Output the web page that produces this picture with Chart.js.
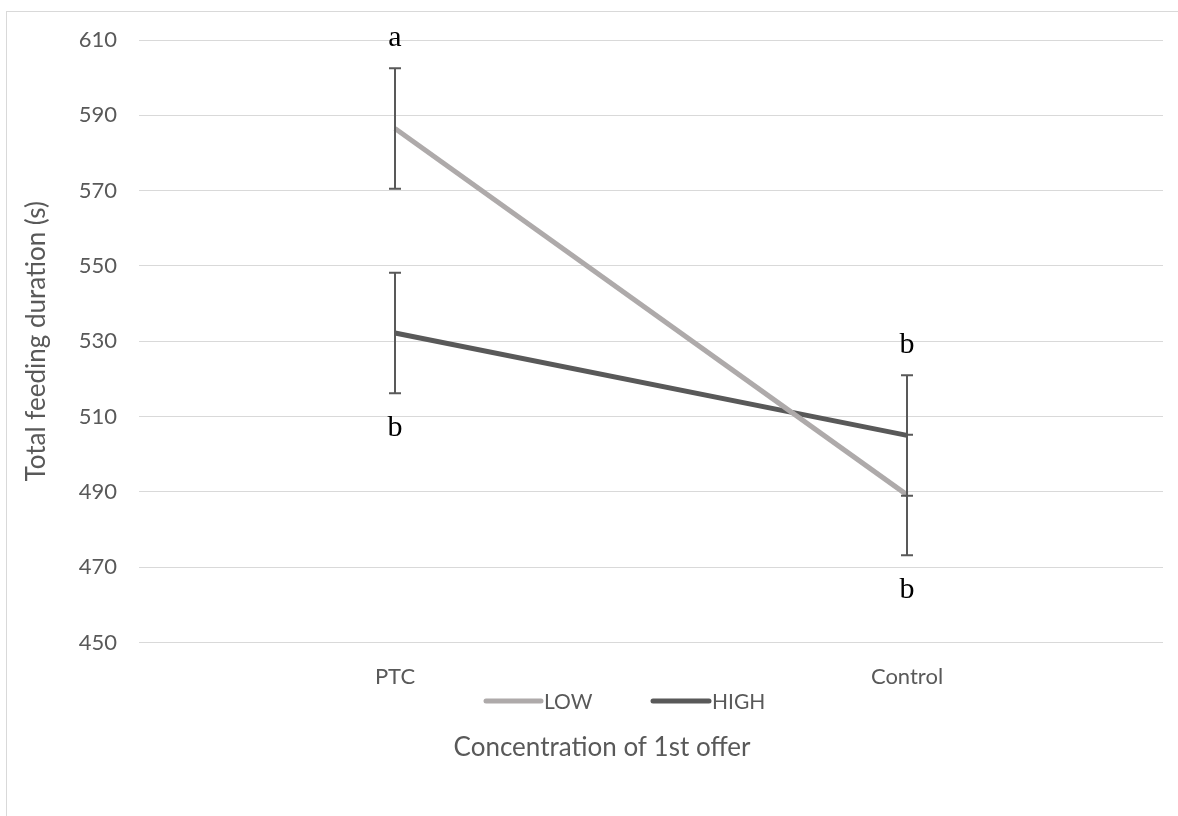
<!DOCTYPE html>
<html>
<head>
<meta charset="utf-8">
<script src="https://cdn.jsdelivr.net/npm/chart.js@4"></script>
<style>
  html, body { margin: 0; padding: 0; background: #ffffff; }
  #wrap { width: 1178px; height: 816px; position: relative; }
</style>
</head>
<body>
<div id="wrap"><canvas id="c" width="1178" height="816"></canvas></div>
<script>
// Mean total feeding duration by concentration of the first offer
const categories = ['PTC', 'Control'];
const lowValues  = [586.5, 489.2];
const highValues = [532.2, 505.0];
const lowErrors  = [16, 16];
const highErrors = [16, 16];
// significance letters and whether each sits above or below its error bar
const lowLetters  = ['a', 'b'];
const lowSides    = ['above', 'below'];
const highLetters = ['b', 'b'];
const highSides   = ['below', 'above'];
const yTicks = [450, 470, 490, 510, 530, 550, 570, 590, 610];
const xTitle = 'Concentration of 1st offer';

const LOW_COLOR = '#AEAAAA';
const HIGH_COLOR = '#595959';
const TEXT_COLOR = '#595959';
const GRID_COLOR = '#d9d9d9';
const SANS = 'Lato, "Open Sans", sans-serif';

// outer frame around the chart
const framePlugin = {
  id: 'frame',
  beforeDraw(chart) {
    const ctx = chart.ctx;
    ctx.save();
    ctx.strokeStyle = GRID_COLOR;
    ctx.lineWidth = 1;
    ctx.strokeRect(6.5, 11.5, 1400, 1000);
    ctx.restore();
  }
};

// vertical error bars with caps, plus the letters beside them
const errorBarPlugin = {
  id: 'errorBars',
  afterDatasetsDraw(chart) {
    const ctx = chart.ctx;
    const x = chart.scales.x, y = chart.scales.y;
    const groups = [
      { values: lowValues, errors: lowErrors, letters: lowLetters, sides: lowSides },
      { values: highValues, errors: highErrors, letters: highLetters, sides: highSides }
    ];
    ctx.save();
    ctx.strokeStyle = '#595959';
    ctx.lineWidth = 2;
    groups.forEach(g => {
      g.values.forEach((v, i) => {
        const px = Math.round(x.getPixelForValue(i));
        const top = y.getPixelForValue(v + g.errors[i]);
        const bot = y.getPixelForValue(v - g.errors[i]);
        ctx.beginPath();
        ctx.moveTo(px, top); ctx.lineTo(px, bot);
        ctx.moveTo(px - 6, top); ctx.lineTo(px + 6, top);
        ctx.moveTo(px - 6, bot); ctx.lineTo(px + 6, bot);
        ctx.stroke();
      });
    });
    ctx.fillStyle = '#000000';
    ctx.font = '30px "Liberation Serif", "Times New Roman", serif';
    ctx.textAlign = 'center';
    ctx.textBaseline = 'alphabetic';
    groups.forEach(g => {
      g.values.forEach((v, i) => {
        const px = x.getPixelForValue(i);
        if (g.sides[i] === 'above') {
          const top = y.getPixelForValue(v + g.errors[i]);
          ctx.fillText(g.letters[i], px, top - 22);
        } else {
          const bot = y.getPixelForValue(v - g.errors[i]);
          ctx.fillText(g.letters[i], px, bot + 43);
        }
      });
    });
    ctx.restore();
  }
};

// legend placed between the category labels and the axis title, then the axis title
const legendPlugin = {
  id: 'midLegend',
  afterDraw(chart) {
    const ctx = chart.ctx;
    const yMid = 701;
    const items = [
      { ds: chart.data.datasets[0], x0: 486, x1: 541 },
      { ds: chart.data.datasets[1], x0: 653, x1: 709 }
    ];
    ctx.save();
    ctx.font = '21px ' + SANS;
    ctx.textBaseline = 'middle';
    ctx.textAlign = 'left';
    items.forEach(it => {
      ctx.strokeStyle = it.ds.borderColor;
      ctx.lineWidth = 5;
      ctx.lineCap = 'round';
      ctx.beginPath();
      ctx.moveTo(it.x0, yMid); ctx.lineTo(it.x1, yMid);
      ctx.stroke();
      ctx.fillStyle = TEXT_COLOR;
      ctx.fillText(it.ds.label, it.x1 + 3, yMid + 1);
    });
    ctx.font = '26px ' + SANS;
    ctx.textAlign = 'center';
    ctx.fillStyle = TEXT_COLOR;
    ctx.fillText(xTitle, 602, 748);
    ctx.restore();
  }
};

new Chart(document.getElementById('c'), {
  type: 'line',
  data: {
    labels: categories,
    datasets: [
      { label: 'LOW', data: lowValues, borderColor: LOW_COLOR, backgroundColor: LOW_COLOR,
        borderWidth: 5, pointRadius: 0, tension: 0, borderCapStyle: 'butt' },
      { label: 'HIGH', data: highValues, borderColor: HIGH_COLOR, backgroundColor: HIGH_COLOR,
        borderWidth: 5, pointRadius: 0, tension: 0, borderCapStyle: 'butt' }
    ]
  },
  options: {
    responsive: false,
    animation: false,
    devicePixelRatio: 1,
    layout: { padding: { left: 0, right: 15, top: 40, bottom: 0 } },
    plugins: {
      legend: { display: false },
      tooltip: { enabled: false }
    },
    scales: {
      x: {
        type: 'category',
        offset: true,
        grid: { display: false, drawTicks: false },
        border: { display: false },
        ticks: { color: TEXT_COLOR, font: { family: SANS, size: 22 }, padding: 21, maxRotation: 0 },
        title: { display: false },
        afterFit(scale) { scale.height = 173.5; }
      },
      y: {
        min: 450, max: 610,
        afterBuildTicks(scale) { scale.ticks = yTicks.map(v => ({ value: v })); },
        grid: { color: GRID_COLOR, lineWidth: 1, drawTicks: false },
        border: { display: false },
        ticks: { color: TEXT_COLOR, font: { family: SANS, size: 22 }, padding: 22 },
        title: { display: true, text: 'Total feeding duration (s)', color: TEXT_COLOR,
                 font: { family: SANS, size: 26 }, padding: { top: 21, bottom: 0 } },
        afterFit(scale) { scale.width = 139; }
      }
    }
  },
  plugins: [framePlugin, errorBarPlugin, legendPlugin]
});
</script>
</body>
</html>
